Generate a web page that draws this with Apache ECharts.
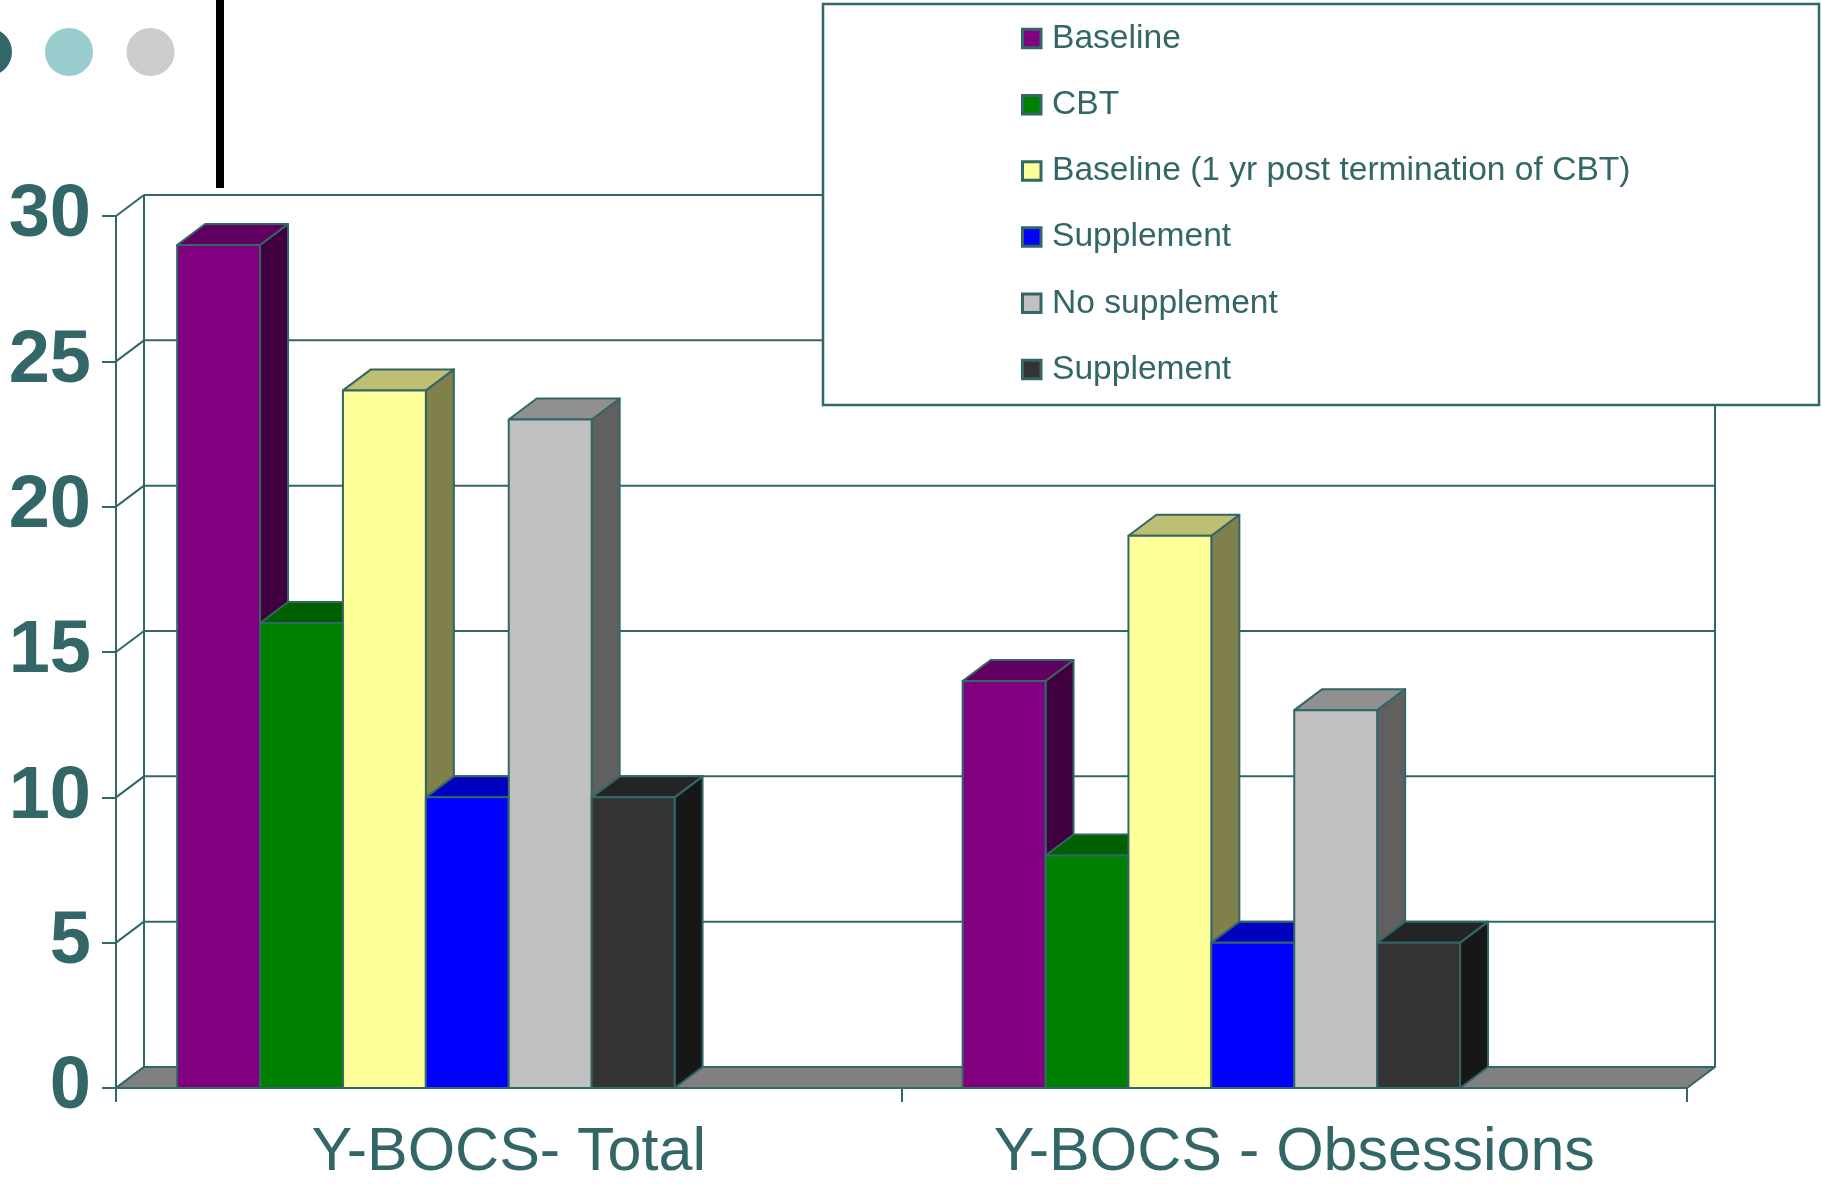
<!DOCTYPE html>
<html>
<head>
<meta charset="utf-8">
<title>Y-BOCS scores</title>
<script src="https://cdn.jsdelivr.net/npm/echarts@6/dist/echarts.min.js"></script>
<style>
  html, body { margin: 0; padding: 0; background: #ffffff; }
  #chart { width: 1822px; height: 1184px; }
</style>
</head>
<body>
<div id="chart"></div>
<script>
// ---- data ----
const categories = ['Y-BOCS- Total', 'Y-BOCS - Obsessions'];
const seriesNames = [
  'Baseline',
  'CBT',
  'Baseline (1 yr post termination of CBT)',
  'Supplement',
  'No supplement',
  'Supplement'
];
const baselineValues = [29, 14];
const cbtValues = [16, 8];
const followUpValues = [24, 19];
const supplementValues = [10, 5];
const noSupplementValues = [23, 13];
const supplementLateValues = [10, 5];
const yTicks = [0, 5, 10, 15, 20, 25, 30];

const seriesValues = [
  baselineValues, cbtValues, followUpValues,
  supplementValues, noSupplementValues, supplementLateValues
];

// ---- styling ----
const TEAL = '#336666';
const FONT = '"Liberation Sans", Arial, Helvetica, sans-serif';
// front / top / side shades of each box
const faceColors = [
  ['#800080', '#600060', '#400040'],
  ['#008000', '#006000', '#004000'],
  ['#FFFF99', '#BFBF73', '#80804D'],
  ['#0000FF', '#0000BF', '#000080'],
  ['#C0C0C0', '#909090', '#606060'],
  ['#333333', '#242424', '#171717']
];
const DX = 28;   // depth offset to the right
const DY = 21;   // depth offset upwards
const SLOT_COUNT = 8;
const BAR_FRAC = 0.10554;
const GAP_FRAC = (1 - SLOT_COUNT * BAR_FRAC) / 2;

const chart = echarts.init(document.getElementById('chart'), null, { renderer: 'canvas' });

// left wall diagonals and back wall grid lines
function renderWalls(params, api) {
  const cs = params.coordSys;
  const v = api.value(1);
  const p = api.coord([0, v]);
  const y = p[1];
  const xl = cs.x, xr = cs.x + cs.width;
  const lineStyle = { stroke: TEAL, lineWidth: 2 };
  const children = [
    { type: 'line', shape: { x1: xl, y1: y, x2: xl + DX, y2: y - DY }, style: lineStyle },
    { type: 'line', shape: { x1: xl + DX, y1: y - DY, x2: xr + DX, y2: y - DY }, style: lineStyle }
  ];
  if (params.dataIndex === 0) {
    const yTop = cs.y - DY;
    children.push(
      { type: 'line', shape: { x1: xl + DX, y1: y - DY, x2: xl + DX, y2: yTop }, style: lineStyle },
      { type: 'line', shape: { x1: xr + DX, y1: y - DY, x2: xr + DX, y2: yTop }, style: lineStyle }
    );
  }
  return { type: 'group', children: children };
}

// grey floor at value 0
function renderFloor(params, api) {
  const cs = params.coordSys;
  const y = api.coord([0, 0])[1];
  const xl = cs.x, xr = cs.x + cs.width;
  return {
    type: 'polygon',
    shape: { points: [[xl, y], [xr, y], [xr + DX, y - DY], [xl + DX, y - DY]] },
    style: { fill: '#808080', stroke: TEAL, lineWidth: 2, lineJoin: 'round' }
  };
}

// one box per data item, placed in its slot within the category band
function boxRenderer(slot) {
  const shades = faceColors[slot];
  return function (params, api) {
    const cat = api.value(0);
    const v = api.value(1);
    const base = api.coord([cat, 0]);
    const top = api.coord([cat, v]);
    const band = api.size([1, 0])[0];
    const x0 = base[0] - band / 2 + band * (GAP_FRAC + slot * BAR_FRAC);
    const x1 = x0 + band * BAR_FRAC;
    const yb = base[1], yt = top[1];
    const edge = { stroke: TEAL, lineWidth: 2, lineJoin: 'round' };
    return {
      type: 'group',
      children: [
        { type: 'polygon', shape: { points: [[x1, yt], [x1 + DX, yt - DY], [x1 + DX, yb - DY], [x1, yb]] },
          style: Object.assign({ fill: shades[2] }, edge) },
        { type: 'polygon', shape: { points: [[x0, yt], [x1, yt], [x1 + DX, yt - DY], [x0 + DX, yt - DY]] },
          style: Object.assign({ fill: shades[1] }, edge) },
        { type: 'polygon', shape: { points: [[x0, yt], [x1, yt], [x1, yb], [x0, yb]] },
          style: Object.assign({ fill: shades[0] }, edge) }
      ]
    };
  };
}

const series = [
  {
    type: 'custom', name: 'walls', z: 1, silent: true,
    renderItem: renderWalls,
    data: yTicks.map(function (t) { return [0, t]; })
  },
  {
    type: 'custom', name: 'floor', z: 2, silent: true,
    renderItem: renderFloor,
    data: [[0, 0]]
  }
];
seriesValues.forEach(function (vals, i) {
  series.push({
    type: 'custom',
    name: seriesNames[i],
    z: 3,
    renderItem: boxRenderer(i),
    itemStyle: { color: faceColors[i][0] },
    data: vals.map(function (v, c) { return [c, v]; })
  });
});

// legend box drawn from the series names and colours
const LEGEND_X = 1021, LEGEND_Y0 = 38.5, LEGEND_STEP = 66.2, ICON = 18.5;
const graphics = [
  { type: 'circle', shape: { cx: -12, cy: 52, r: 24 }, style: { fill: '#336666' } },
  { type: 'circle', shape: { cx: 69, cy: 52, r: 24 }, style: { fill: '#99CCCC' } },
  { type: 'circle', shape: { cx: 150.5, cy: 52, r: 24 }, style: { fill: '#CCCCCC' } },
  { type: 'rect', shape: { x: 216, y: 0, width: 8, height: 188 }, style: { fill: '#000000' } },
  { type: 'rect', z: 10, shape: { x: 823, y: 4, width: 996, height: 401 },
    style: { fill: '#ffffff', stroke: TEAL, lineWidth: 2.5 } }
];
seriesNames.forEach(function (name, i) {
  const cy = LEGEND_Y0 + i * LEGEND_STEP;
  graphics.push({
    type: 'rect', z: 11,
    shape: { x: LEGEND_X + 1.5, y: cy - ICON / 2, width: ICON, height: ICON },
    style: { fill: faceColors[i][0], stroke: TEAL, lineWidth: 3 }
  });
  graphics.push({
    type: 'text', z: 11,
    x: 1052, y: cy,
    style: {
      text: name, fill: TEAL, font: '33.6px ' + FONT,
      textAlign: 'left', textVerticalAlign: 'middle', verticalAlign: 'middle'
    }
  });
});

chart.setOption({
  animation: false,
  backgroundColor: '#ffffff',
  grid: { left: 116, right: 135, top: 216, bottom: 91, containLabel: false },
  xAxis: {
    type: 'category',
    data: categories,
    boundaryGap: true,
    axisLine: { show: true, lineStyle: { color: TEAL, width: 2 } },
    axisTick: { show: true, length: 14, alignWithLabel: false, lineStyle: { color: TEAL, width: 2 } },
    axisLabel: { color: TEAL, fontSize: 61, fontFamily: FONT, margin: 35 },
    splitLine: { show: false }
  },
  yAxis: {
    type: 'value',
    min: 0, max: 30, interval: 5,
    axisLine: { show: true, lineStyle: { color: TEAL, width: 2 } },
    axisTick: { show: true, length: 14, lineStyle: { color: TEAL, width: 2 } },
    axisLabel: { color: TEAL, fontSize: 74, fontWeight: 'bold', fontFamily: FONT, margin: 25,
                 padding: [10, 0, 0, 0] },
    splitLine: { show: false }
  },
  graphic: graphics,
  series: series
});
</script>
</body>
</html>
